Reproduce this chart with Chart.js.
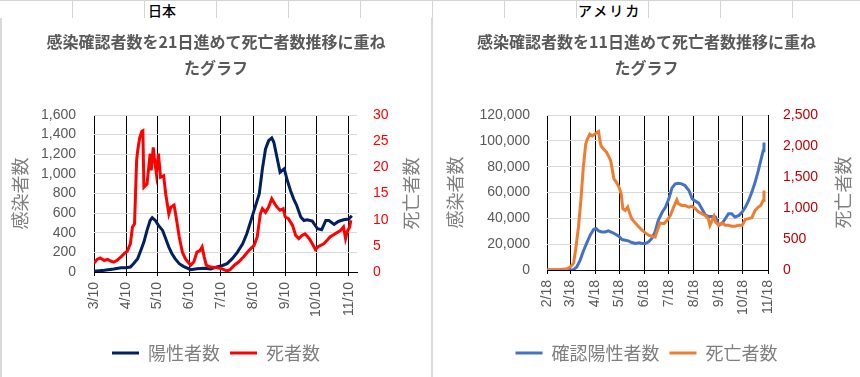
<!DOCTYPE html>
<html>
<head>
<meta charset="utf-8">
<script src="https://cdn.jsdelivr.net/npm/chart.js@4.4.0/dist/chart.umd.min.js"></script>
<style>
    body { margin: 0; width: 860px; height: 377px; background: #fff; overflow: hidden; position: relative; font-family: 'Noto Sans CJK JP', sans-serif; }
    .row { position: absolute; left: 0; top: 0; width: 860px; height: 19px; border-top: 1px solid #d4d4d4; border-bottom: 1px solid #d4d4d4; box-sizing: border-box; }
    .col { position: absolute; top: 0; width: 1px; height: 19px; background: #d4d4d4; }
    .cell { position: absolute; top: 2px; height: 17px; line-height: 17px; font-size: 14px; color: #000; font-weight: 500; }
    .panel { position: absolute; top: 18px; height: 359px; background: #fff; border-left: 2px solid #d9d9d9; box-sizing: border-box; }
    canvas { position: absolute; }
</style>
</head>
<body>
<div class="row"></div>
<div class="col" style="left:72px"></div>
<div class="col" style="left:144px"></div>
<div class="col" style="left:216px"></div>
<div class="col" style="left:288px"></div>
<div class="col" style="left:360px"></div>
<div class="col" style="left:432px"></div>
<div class="col" style="left:504px"></div>
<div class="col" style="left:576px"></div>
<div class="col" style="left:648px"></div>
<div class="col" style="left:720px"></div>
<div class="col" style="left:792px"></div>
<div class="cell" style="left:148px">日本</div>
<div class="cell" style="left:578px; letter-spacing:2px">アメリカ</div>

<div class="panel" style="left:0; width:431px"></div>
<div class="panel" style="left:431px; width:429px"></div>
<canvas id="jpChart" width="428" height="359" style="left:2px; top:18px"></canvas>
<canvas id="usChart" width="427" height="359" style="left:433px; top:18px"></canvas>

<script>
// Japan: day offsets from 3/10, positives shifted 21 days
const jpTickDays = [0, 31, 61, 92, 122, 153, 184, 214, 245];
const jpTickLabels = ['3/10', '4/10', '5/10', '6/10', '7/10', '8/10', '9/10', '10/10', '11/10'];

const jpPosDays = [0, 10, 19, 26, 31, 35, 38, 42, 45, 48, 51, 54, 56, 59, 62, 66, 69, 72, 75, 78,
    82, 86, 93, 99, 106, 112, 118, 123, 128, 133, 138, 143, 147, 152, 155, 159, 162, 165, 168, 171,
    173, 176, 179, 183, 186, 189, 192, 195, 199, 202, 205, 210, 215, 219, 223, 226, 231, 235, 240, 245, 248];
const jpPositive = [7, 17, 31, 44, 44, 51, 85, 136, 220, 305, 424, 525, 553, 525, 475, 424, 339, 254, 186, 136,
    85, 58, 24, 34, 37, 31, 51, 64, 85, 136, 203, 288, 390, 559, 661, 797, 1051, 1254, 1339, 1366,
    1322, 1170, 1017, 1051, 932, 831, 746, 678, 559, 525, 532, 519, 441, 431, 525, 525, 485, 515, 532, 539, 573];

const jpDeathDays = [0, 3, 6, 10, 13, 16, 19, 22, 26, 29, 32, 35, 37, 39, 41, 42, 44, 46, 47, 48,
    51, 53, 54, 55, 57, 58, 60, 62, 64, 67, 69, 72, 74, 77, 79, 82, 85, 88, 93, 96,
    99, 102, 104, 106, 108, 112, 119, 123, 128, 131, 135, 139, 144, 149, 154, 157, 160, 162, 165, 168,
    171, 174, 176, 179, 182, 184, 187, 191, 194, 197, 200, 203, 207, 210, 213, 216, 221, 224, 227, 232,
    237, 240, 242, 244, 246, 247];
const jpDeaths = [1.7, 2.4, 2.7, 2.2, 2.4, 2.1, 1.9, 2.2, 2.9, 3.5, 4.0, 5.4, 8.6, 9.2, 21.3, 23.2, 25.7, 26.9, 27.0, 16.2,
    16.8, 20.7, 22.6, 19.4, 23.8, 21.9, 18.8, 22.6, 18.1, 18.4, 14.9, 11.1, 12.4, 12.8, 10.5, 6.7, 3.8, 2.5, 1.3, 1.9,
    3.8, 4.1, 4.8, 2.9, 1.3, 0.95, 0.8, 0.6, 0.2, 0.45, 1.3, 1.9, 2.9, 4.1, 5.1, 6.7, 11.1, 12.1, 11.4, 12.4,
    14.0, 13.0, 12.4, 11.8, 12.1, 10.5, 10.2, 8.9, 7.0, 6.4, 7.0, 7.3, 6.4, 5.4, 4.3, 4.9, 5.4, 6.0, 6.7, 7.3,
    7.9, 8.6, 6.4, 7.9, 8.6, 9.9];

// USA: day offsets from 2/18, positives shifted 11 days
const usTickDays = [0, 29, 60, 90, 121, 151, 182, 213, 243, 274];
const usTickLabels = ['2/18', '3/18', '4/18', '5/18', '6/18', '7/18', '8/18', '9/18', '10/18', '11/18'];

const usPosDays = [0, 29, 33, 37, 41, 45, 50, 54, 58, 61, 64, 68, 72, 76, 81, 85, 89, 93, 97, 101,
    105, 110, 114, 118, 122, 126, 130, 134, 138, 143, 147, 151, 155, 159, 163, 167, 171, 176, 180, 184,
    188, 192, 196, 200, 205, 209, 213, 217, 221, 225, 229, 233, 238, 242, 246, 250, 254, 258, 262, 265, 268, 269];
const usPositive = [0, 0, 250, 2500, 7500, 14500, 22000, 27500, 31500, 32000, 30250, 29500, 29500, 30250, 29000, 27700, 26150, 23600, 23100, 22600,
    21300, 20500, 21000, 20500, 20500, 21800, 24400, 29500, 38500, 44900, 48700, 55100, 63600, 66700, 67200, 66700, 65400, 61500, 55100, 53300,
    51800, 47400, 42800, 41500, 41500, 41000, 34600, 35900, 39700, 43600, 43600, 41000, 42300, 44900, 48700, 53800, 60300, 67900, 76900, 84600, 92300, 98700];

const usDeathDays = [0, 17, 25, 29, 33, 36, 39, 42, 45, 48, 50, 53, 56, 59, 62, 64, 65, 67, 70, 74,
    79, 83, 86, 89, 92, 94, 97, 100, 102, 105, 110, 114, 118, 122, 126, 130, 134, 137, 140, 145,
    149, 153, 157, 161, 163, 167, 171, 176, 180, 184, 188, 192, 196, 200, 202, 207, 209, 213, 217, 221,
    225, 229, 233, 238, 242, 246, 250, 254, 258, 262, 265, 268, 269];
const usDeaths = [0, 10, 21, 53, 110, 374, 694, 1122, 1656, 2030, 2110, 2190, 2164, 2190, 2217, 2233, 2137, 2003, 1950, 1896,
    1763, 1469, 1416, 1346, 1229, 988, 962, 1015, 935, 828, 748, 694, 641, 598, 561, 545, 534, 641, 759, 748,
    801, 881, 1015, 1132, 1068, 1042, 1042, 1015, 1028, 988, 935, 908, 881, 828, 721, 865, 775, 721, 759, 721,
    721, 705, 705, 721, 721, 817, 828, 844, 962, 1015, 1042, 1122, 1282];

Chart.defaults.font.family = "'Liberation Sans', 'Noto Sans CJK JP', sans-serif";
const cjkFont = "'Noto Sans CJK JP', sans-serif";

// Right axis title, rotated the same way as the left one
const sideTitle = {
    id: 'sideTitle',
    afterDraw(chart, args, opts) {
        const {ctx, chartArea} = chart;
        ctx.save();
        ctx.translate(chartArea.right + opts.offset, (chartArea.top + chartArea.bottom) / 2);
        ctx.rotate(-Math.PI / 2);
        ctx.font = '18px ' + cjkFont;
        ctx.fillStyle = '#7f7f7f';
        ctx.textAlign = 'center';
        ctx.textBaseline = 'middle';
        ctx.fillText(opts.text, 0, 0);
        ctx.restore();
    }
};

function toPoints(days, values) {
    return days.map((d, i) => ({x: d, y: values[i]}));
}

function makeChart(id, c) {
    const ctx = document.getElementById(id).getContext('2d');
    return new Chart(ctx, {
        type: 'line',
        data: {
            datasets: [{
                    label: c.posLabel,
                    data: toPoints(c.posDays, c.pos),
                    borderColor: c.posColor,
                    backgroundColor: c.posColor,
                    borderWidth: 3,
                    pointRadius: 0,
                    order: 1,
                    yAxisID: 'y'
                },
                {
                    label: c.deathLabel,
                    data: toPoints(c.deathDays, c.deaths),
                    borderColor: c.deathColor,
                    backgroundColor: c.deathColor,
                    borderWidth: 3,
                    pointRadius: 0,
                    order: 0,
                    yAxisID: 'y1'
                }
            ]
        },
        options: {
            responsive: false,
            animation: false,
            layout: { padding: { left: 0, right: 0, top: 0, bottom: 5 } },
            scales: {
                x: {
                    type: 'linear',
                    min: 0,
                    max: c.xMax,
                    afterBuildTicks: s => { s.ticks = c.tickDays.map(v => ({value: v})); },
                    afterFit: s => { s.height = c.xHeight; },
                    grid: { color: '#000', lineWidth: 1, tickLength: 4 },
                    border: { color: '#000', width: 1 },
                    ticks: {
                        autoSkip: false,
                        minRotation: 90,
                        maxRotation: 90,
                        padding: 6,
                        color: '#595959',
                        font: { size: 14 },
                        callback: v => c.tickLabels[c.tickDays.indexOf(v)]
                    }
                },
                y: {
                    position: 'left',
                    min: 0,
                    max: c.yMax,
                    afterFit: s => { s.width = c.yWidth; },
                    grid: { color: t => t.tick.value === 0 ? 'rgba(0,0,0,0)' : '#d9d9d9', drawTicks: false },
                    border: { display: false },
                    ticks: {
                        autoSkip: false,
                        stepSize: c.yStep,
                        padding: c.yPad,
                        color: '#595959',
                        font: { size: 14 },
                        callback: v => v.toLocaleString('en-US')
                    },
                    title: {
                        display: true,
                        text: '感染者数',
                        color: '#7f7f7f',
                        font: { size: 18, family: cjkFont },
                        padding: { top: c.yTitlePad, bottom: 0 }
                    }
                },
                y1: {
                    position: 'right',
                    min: 0,
                    max: c.y1Max,
                    afterFit: s => { s.width = c.y1Width; },
                    grid: { display: false, drawTicks: false },
                    border: { display: false },
                    ticks: {
                        autoSkip: false,
                        stepSize: c.y1Step,
                        padding: c.y1Pad,
                        color: c.y1Color,
                        font: { size: 14 },
                        callback: v => v.toLocaleString('en-US')
                    }
                }
            },
            plugins: {
                title: {
                    display: true,
                    text: c.title,
                    color: '#595959',
                    font: { size: 16, weight: 'bold', family: cjkFont, lineHeight: '26px' },
                    padding: { top: 11, bottom: 34 }
                },
                legend: {
                    position: 'bottom',
                    labels: {
                        usePointStyle: true,
                        pointStyle: 'line',
                        pointStyleWidth: 27,
                        color: '#7f7f7f',
                        font: { size: 18, family: cjkFont },
                        padding: 10,
                        sort: (a, b) => a.datasetIndex - b.datasetIndex
                    }
                },
                tooltip: { enabled: false },
                sideTitle: { text: '死亡者数', offset: c.sideOffset }
            }
        },
        plugins: [sideTitle]
    });
}

makeChart('jpChart', {
    title: ['感染確認者数を21日進めて死亡者数推移に重ね', 'たグラフ'],
    posLabel: '陽性者数', deathLabel: '死者数',
    posDays: jpPosDays, pos: jpPositive, deathDays: jpDeathDays, deaths: jpDeaths,
    posColor: '#002060', deathColor: '#FF0000',
    tickDays: jpTickDays, tickLabels: jpTickLabels, xMax: 253, xHeight: 62,
    yMax: 1600, yStep: 200, yWidth: 92, yPad: 18, yTitlePad: 7,
    y1Max: 30, y1Step: 5, y1Width: 73, y1Pad: 16, y1Color: '#FF0000',
    sideOffset: 54
});

makeChart('usChart', {
    title: ['感染確認者数を11日進めて死亡者数推移に重ね', 'たグラフ'],
    posLabel: '確認陽性者数', deathLabel: '死亡者数',
    posDays: usPosDays, pos: usPositive, deathDays: usDeathDays, deaths: usDeaths,
    posColor: '#4472C4', deathColor: '#ED7D31',
    tickDays: usTickDays, tickLabels: usTickLabels, xMax: 274, xHeight: 64,
    yMax: 120000, yStep: 20000, yWidth: 114, yPad: 17, yTitlePad: 11,
    y1Max: 2500, y1Step: 500, y1Width: 92, y1Pad: 15, y1Color: '#C00000',
    sideOffset: 75
});
</script>
</body>
</html>
